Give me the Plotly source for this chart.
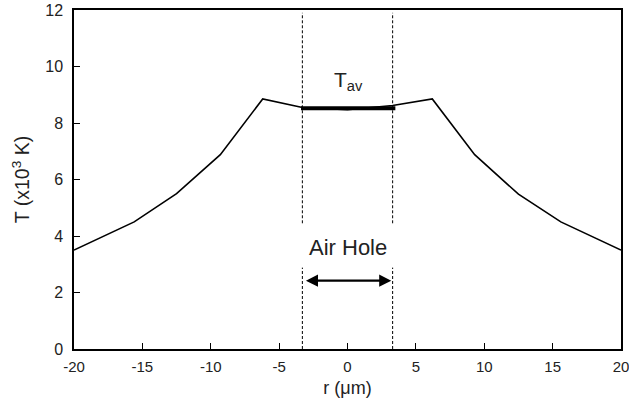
import plotly.graph_objects as go

r_um = [-20, -15.6, -12.5, -9.3, -6.2, -3.3, 0, 3.3, 6.2, 9.3, 12.5, 15.6, 20]
T_k = [3.5, 4.5, 5.5, 6.88, 8.85, 8.55, 8.47, 8.62, 8.85, 6.88, 5.48, 4.5, 3.5]

tav_x = [-3.4, 3.5]
tav_y = [8.52, 8.52]

hole_edges = [-3.3, 3.3]
dash_lower = [0, 2.88]
dash_upper = [4.45, 11.9]
arrow_y = 2.42

font = "Liberation Sans, Arial, sans-serif"

fig = go.Figure()
fig.add_trace(go.Scatter(x=r_um, y=T_k, mode="lines",
                         line=dict(color="black", width=1.6), showlegend=False))
fig.add_trace(go.Scatter(x=tav_x, y=tav_y, mode="lines",
                         line=dict(color="black", width=4), showlegend=False))

for xe in hole_edges:
    for seg in (dash_lower, dash_upper):
        fig.add_shape(type="line", x0=xe, x1=xe, y0=seg[0], y1=seg[1],
                      xref="x", yref="y",
                      line=dict(color="black", width=1, dash="3px,2px"))

fig.add_annotation(x=hole_edges[1] - 0.1, y=arrow_y, ax=hole_edges[0] + 0.15, ay=arrow_y,
                   xref="x", yref="y", axref="x", ayref="y",
                   showarrow=True, arrowhead=2, arrowside="end+start",
                   arrowwidth=2.2, arrowsize=1.1, arrowcolor="black", text="")
fig.add_annotation(x=0, y=3.6, text="Air Hole", showarrow=False,
                   font=dict(family=font, size=22, color="#222"))
fig.add_annotation(x=0.1, y=9.5, text="T<sub>av</sub>", showarrow=False,
                   font=dict(family=font, size=21, color="#222"))

axis_common = dict(showline=True, linecolor="black", linewidth=1.5, mirror=True,
                   ticks="inside", ticklen=6, tickwidth=1.2, tickcolor="black",
                   showgrid=False, zeroline=False, automargin=False,
                   ticklabeloverflow="allow")

fig.update_xaxes(range=[-20, 20], tickvals=[-20, -15, -10, -5, 0, 5, 10, 15, 20],
                 ticktext=["-20", "-15", "-10", "-5", "0", "5", "10", "15", "20"],
                 tickfont=dict(family=font, size=15, color="#222"),
                 ticklabelstandoff=3,
                 title=dict(text="r (μm)", font=dict(family=font, size=18, color="#222"), standoff=8),
                 **axis_common)
fig.update_yaxes(range=[0, 12], tickvals=[0, 2, 4, 6, 8, 10, 12],
                 tickfont=dict(family=font, size=16, color="#222"),
                 ticklabelstandoff=6,
                 title=dict(text="T (x10<sup>3</sup> K)", font=dict(family=font, size=19.5, color="#222"), standoff=10),
                 **axis_common)

fig.update_layout(width=629, height=415, margin=dict(l=74, r=8, t=10, b=66),
                  plot_bgcolor="white", paper_bgcolor="white")

fig.write_html("out.html")
